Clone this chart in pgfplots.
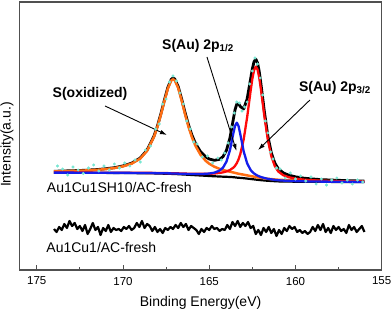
\documentclass[border=0pt]{standalone}
\usepackage{pgfplots}
\pgfplotsset{compat=1.18}
\usepackage{pgfplotstable}
\usepackage{fontspec}
\setmainfont{Liberation Sans}
\usetikzlibrary{arrows.meta}
\definecolor{myorange}{RGB}{255,110,20}
\definecolor{myblue}{RGB}{20,30,235}
\definecolor{myred}{RGB}{255,10,10}
\definecolor{mycyan}{RGB}{120,230,210}
\definecolor{framegray}{RGB}{80,80,80}

% E  baseline  orange  blue  red  envelope
\pgfplotstableread{
E base orange blue red sum
174 97.3 98.56 97.36 97.42 98.74
173.5 97.3 98.76 97.37 97.44 98.97
173 97.3 99.02 97.37 97.45 99.24
172.5 97.2 99.24 97.28 97.36 99.48
172 97.2 99.66 97.29 97.38 99.93
171.5 97.1 100.13 97.2 97.3 100.43
171 97.1 100.91 97.22 97.32 101.25
170.5 97.0 101.93 97.13 97.25 102.31
170 97.0 103.63 97.15 97.29 104.07
169.5 96.9 106.3 97.08 97.23 106.81
169 96.8 111.4 97.01 97.18 111.99
168.6 96.7 119.2 96.95 97.13 119.88
168.2 96.6 133.2 96.89 97.08 133.97
168.0 96.5 143.3 96.81 97.02 144.13
167.8 96.4 155.4 96.77 96.96 156.33
167.6 96.3 168.8 96.7 96.9 169.8
167.4 96.2 181.4 96.64 96.85 182.49
167.2 96.1 189.5 96.58 96.8 190.68
167.1 96.0 190.7 96.49 96.73 191.92
167.0 96.0 189.8 96.51 96.76 191.07
166.8 95.8 182.1 96.37 96.63 183.5
166.6 95.6 169.5 96.24 96.5 171.04
166.4 95.4 155.7 96.13 96.39 157.42
166.2 95.2 143.1 96.04 96.3 145.04
166.0 95.0 132.6 95.97 96.21 134.78
165.8 94.8 124.2 95.93 96.15 126.68
165.5 94.5 115.1 95.96 96.11 118.17
165.2 94.2 109.1 96.17 96.15 113.02
165.0 94.0 106.3 96.46 96.23 110.99
164.7 93.7 103.25 97.33 96.49 109.67
164.4 93.5 101.16 99.41 97.09 110.66
164.2 93.3 100.0 102.33 97.64 113.37
164.0 93.2 99.12 108.4 98.56 119.68
163.8 93.0 98.28 119.7 99.92 131.9
163.6 92.8 97.52 136.7 102.37 150.99
163.5 92.6 97.08 144.3 104.2 160.38
163.4 92.4 96.65 147.3 106.9 166.05
163.3 92.2 96.24 143.9 110.6 166.34
163.2 92.1 95.95 136.0 115.7 163.45
163.0 91.8 95.3 118.5 130.8 161.0
162.8 91.4 94.59 106.6 152.9 171.29
162.6 91.0 93.93 100.03 179.1 191.06
162.5 90.8 93.6 98.02 191.1 201.12
162.4 90.6 93.29 96.51 199.8 208.4
162.3 90.4 92.98 95.35 203.3 210.83
162.2 90.2 92.68 94.4 200.6 207.28
162.1 90.0 92.39 93.63 192.4 198.42
162.0 89.8 92.1 92.96 180.5 185.96
161.8 89.5 91.63 91.96 153.5 158.09
161.6 89.2 91.18 91.17 130.1 134.05
161.4 89.0 90.85 90.61 113.8 117.26
161.2 88.8 90.53 90.14 104.0 107.07
161.0 88.6 90.22 89.73 98.53 101.28
160.7 88.5 89.97 89.4 94.7 97.07
160.4 88.4 89.75 89.13 92.82 94.9
160.0 88.3 89.5 88.87 91.38 93.15
159.5 88.2 89.25 88.63 90.31 91.79
159.0 88.2 89.13 88.54 89.73 91.0
158.5 88.1 88.92 88.38 89.26 90.36
158.0 88.1 88.83 88.33 89.01 89.97
157 88.0 88.6 88.16 88.6 89.36
156 87.9 88.4 88.02 88.33 88.95
}\comp

% raw data points
\pgfplotstableread{
E v
173.8 104
173.5 101
173.2 95
172.9 103
172.6 100
172.3 96.5
172.0 102
171.7 105
171.4 99
171.1 104
170.8 100
170.5 106
170.2 102
169.9 107
169.6 104
169.3 110
169.0 108
168.7 120
168.4 124
168.1 141
167.9 146
167.7 166
167.5 171
167.3 188
167.1 194
166.9 189
166.7 177
166.5 166
166.3 149
166.1 141
165.9 128
165.7 126
165.4 113
165.1 114
164.8 107
164.5 112
164.3 110
164.1 117
163.9 127
163.7 143
163.55 157
163.4 168
163.25 167
163.1 159
162.95 163
162.8 168
162.65 186
162.5 199
162.35 212
162.2 206
162.05 192
161.9 175
161.75 149
161.6 137
161.45 118
161.3 111
161.1 102
160.9 101
160.6 92
160.3 97
160.0 91
159.7 94
159.4 89
159.1 93
158.8 86
158.5 91
158.2 85
157.9 90
157.6 92
157.3 87
157.0 90
156.7 86
156.4 90
156.1 88
}\raw

% Au1Cu1/AC-fresh
\pgfplotstableread{
E v
174.00 41
173.85 38
173.70 43
173.55 40
173.40 46
173.25 42
173.10 49
172.95 44
172.80 47
172.65 41
172.50 44
172.35 39
172.20 45
172.05 36
171.90 41
171.75 47
171.60 40
171.45 43
171.30 35
171.15 42
171.00 39
170.85 45
170.70 38
170.55 42
170.40 40
170.25 41
170.10 39
169.95 43
169.80 41
169.65 44
169.50 40
169.35 42
169.20 47
169.05 43
168.90 49
168.75 42
168.60 46
168.45 44
168.30 39
168.15 43
168.00 38
167.85 41
167.70 37
167.55 42
167.40 40
167.25 43
167.10 41
166.95 45
166.80 42
166.65 47
166.50 43
166.35 46
166.20 40
166.05 44
165.90 42
165.75 40
165.60 36
165.45 41
165.30 38
165.15 42
165.00 40
164.85 44
164.70 41
164.55 42
164.40 39
164.25 41
164.10 40
163.95 45
163.80 41
163.65 48
163.50 44
163.35 49
163.20 43
163.05 47
162.90 44
162.75 48
162.60 42
162.45 44
162.30 36
162.15 40
162.00 35
161.85 42
161.70 38
161.55 43
161.40 37
161.25 41
161.10 34
160.95 40
160.80 36
160.65 42
160.50 39
160.35 44
160.20 41
160.05 43
159.90 38
159.75 40
159.60 37
159.45 39
159.30 36
159.15 38
159.00 43
158.85 39
158.70 45
158.55 40
158.40 46
158.25 38
158.10 42
157.95 37
157.80 44
157.65 40
157.50 43
157.35 39
157.20 41
157.05 37
156.90 45
156.75 40
156.60 43
156.45 38
156.30 41
156.15 44
156.00 38
}\fresh

\begin{document}
\begin{tikzpicture}
\path[use as bounding box] (0,0) rectangle (392pt,312pt);
\begin{axis}[
  at={(19.5pt,42pt)}, anchor=south west,
  scale only axis, width=362.2pt, height=268pt,
  x dir=reverse, xmin=155, xmax=176, ymin=0, ymax=268,
  xtick={155,160,165,170,175}, minor x tick num=1,
  ytick=\empty,
  xtick pos=left, tick align=inside,
  major tick length=5pt, minor tick length=3pt,
  axis line style={framegray, line width=1.3pt},
  every tick/.style={framegray, line width=0.9pt},
  tick label style={font=\fontsize{11.5}{13}\selectfont, text=black},
  /pgf/number format/assume math mode=true,
  xticklabel shift=3.5pt,
  clip=false,
]
\addplot[only marks, mark=*, mark size=1.3pt, mycyan, mark options={draw=mycyan, fill=mycyan}] table[x=E,y=v] {\raw};
\addplot[black, line width=2.2pt, line join=round] table[x=E,y=base] {\comp};
\addplot[black, line width=2.8pt, line join=round] table[x=E,y=sum] {\comp};
\addplot[myorange, line width=2.5pt, line join=round] table[x=E,y=orange] {\comp};
\addplot[myred, line width=2.3pt, line join=round] table[x=E,y=red] {\comp};
\addplot[myblue, line width=2.3pt, line join=round] table[x=E,y=blue] {\comp};
\addplot[black, line width=2.2pt, line join=round] table[x=E,y=v] {\fresh};

\node[font=\bfseries\fontsize{14}{16}\selectfont] at (axis cs:171.91,176) {S(oxidized)};
\draw[-{Latex[length=7pt,width=4.5pt]}, line width=0.9pt] (axis cs:171.04,164) -- (axis cs:167.45,135);
\node[font=\bfseries\fontsize{14}{16}\selectfont] at (axis cs:165.65,224) {S(Au) 2p\textsubscript{1/2}};
\draw[-{Latex[length=7pt,width=4.5pt]}, line width=0.9pt] (axis cs:165.13,213) -- (axis cs:163.42,119);
\node[font=\bfseries\fontsize{14}{16}\selectfont] at (axis cs:157.71,182) {S(Au) 2p\textsubscript{3/2}};
\draw[-{Latex[length=7pt,width=4.5pt]}, line width=0.9pt] (axis cs:159.16,170) -- (axis cs:162.17,120);

\node[anchor=west, inner sep=0pt, font=\fontsize{14}{16}\selectfont] at (axis cs:174.42,82) {Au1Cu1SH10/AC-fresh};
\node[anchor=west, inner sep=0pt, font=\fontsize{14}{16}\selectfont] at (axis cs:174.45,22) {Au1Cu1/AC-fresh};

\node[font=\fontsize{14}{16}\selectfont] at (axis description cs:0.5,-0.123) {Binding Energy(eV)};
\node[rotate=90, font=\fontsize{14}{16}\selectfont] at (axis description cs:-0.0345,0.468) {Intensity(a.u.)};
\end{axis}
\end{tikzpicture}
\end{document}
